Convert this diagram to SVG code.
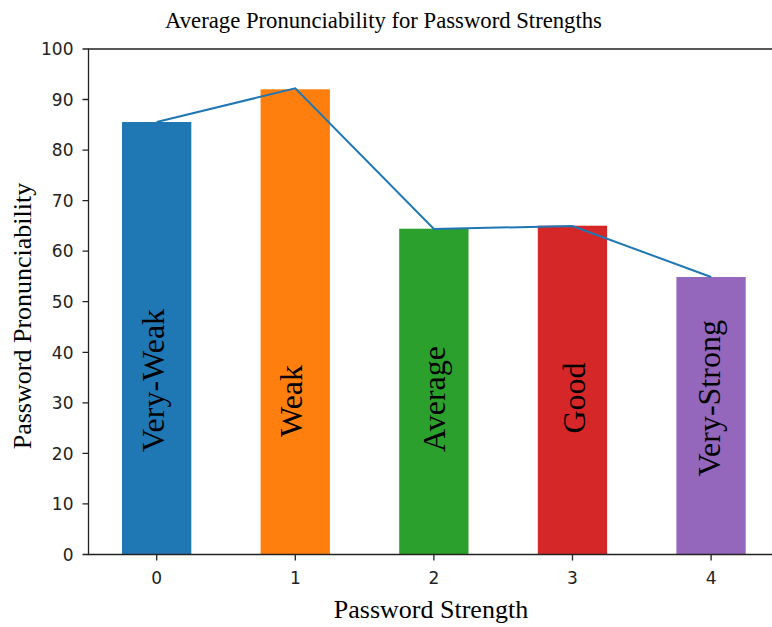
<svg xmlns="http://www.w3.org/2000/svg" width="772" height="627" viewBox="0 0 772 627">
<style>
.tick{font-family:"DejaVu Sans",sans-serif;font-size:17px;fill:#222}
.lab{font-family:"Liberation Serif","Times New Roman",serif;fill:#000}
.bl{font-family:"Liberation Serif","Times New Roman",serif;font-size:32px;fill:#000}
.ax{stroke:#222;stroke-width:1.3;fill:none}
</style>
<rect width="772" height="627" fill="#fff"/>
<text class="lab" x="383.5" y="27.5" font-size="22.7" text-anchor="middle">Average Pronunciability for Password Strengths</text>
<g id="bars">
<g id="bar0"><rect x="122" y="122" width="69.3" height="432.5" fill="#1f77b4"/><text class="bl" transform="translate(164,452) rotate(-90)">Very-Weak</text></g>
<g id="bar1"><rect x="260.6" y="89.3" width="69.3" height="465.2" fill="#ff7f0e"/><text class="bl" transform="translate(302,437) rotate(-90)">Weak</text></g>
<g id="bar2"><rect x="399.2" y="228.7" width="69.3" height="325.8" fill="#2ca02c"/><text class="bl" transform="translate(445,452) rotate(-90)">Average</text></g>
<g id="bar3"><rect x="537.8" y="225.7" width="69.3" height="328.8" fill="#d62728"/><text class="bl" transform="translate(585,433.5) rotate(-90)">Good</text></g>
<g id="bar4"><rect x="676.4" y="277" width="69.3" height="277.5" fill="#9467bd"/><text class="bl" transform="translate(719.5,476.5) rotate(-90)">Very-Strong</text></g>
</g>
<g id="connectors">
<polyline points="156.7,122 295.3,88.3 433.9,229 572.5,226 711.1,277" fill="none" stroke="#1f77b4" stroke-width="2"/>
</g>
<g id="axes">
<path class="ax" d="M774,49 H88.5 V554.5 H774"/>
<g class="ax">
<path d="M82.5,554.5H88.5M82.5,503.9H88.5M82.5,453.4H88.5M82.5,402.8H88.5M82.5,352.3H88.5M82.5,301.7H88.5M82.5,251.2H88.5M82.5,200.6H88.5M82.5,150.1H88.5M82.5,99.5H88.5M82.5,49H88.5"/>
<path d="M156.7,554.5V560.5M295.3,554.5V560.5M433.9,554.5V560.5M572.5,554.5V560.5M711.1,554.5V560.5"/>
</g>
<g class="tick" text-anchor="end">
<text x="73.5" y="560.7">0</text>
<text x="73.5" y="510.1">10</text>
<text x="73.5" y="459.6">20</text>
<text x="73.5" y="409">30</text>
<text x="73.5" y="358.5">40</text>
<text x="73.5" y="307.9">50</text>
<text x="73.5" y="257.4">60</text>
<text x="73.5" y="206.8">70</text>
<text x="73.5" y="156.3">80</text>
<text x="73.5" y="105.7">90</text>
<text x="73.5" y="55.2">100</text>
</g>
<g class="tick" text-anchor="middle">
<text x="156.7" y="584">0</text>
<text x="295.3" y="584">1</text>
<text x="433.9" y="584">2</text>
<text x="572.5" y="584">3</text>
<text x="711.1" y="584">4</text>
</g>
<text class="lab" x="431" y="618" font-size="26" text-anchor="middle">Password Strength</text>
<text class="lab" font-size="26" text-anchor="middle" transform="translate(31,316) rotate(-90)">Password Pronunciability</text>
</g>
</svg>
